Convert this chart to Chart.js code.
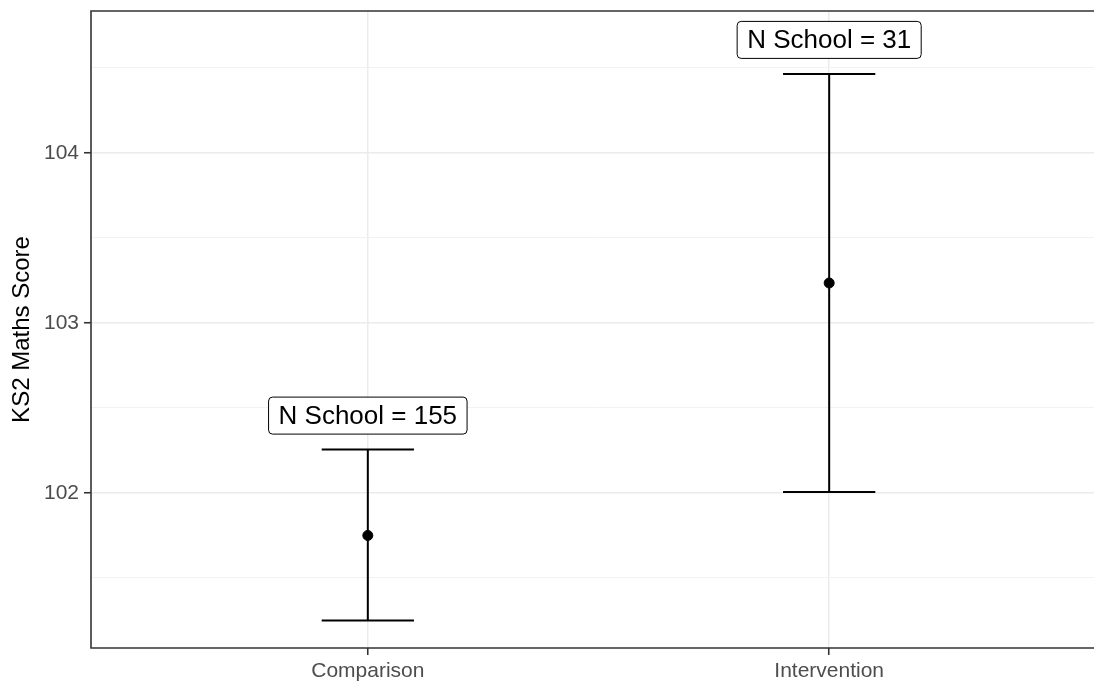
<!DOCTYPE html>
<html>
<head>
<meta charset="utf-8">
<script src="https://cdn.jsdelivr.net/npm/chart.js@4"></script>
<style>
  html, body { margin: 0; padding: 0; background: #fff; overflow: hidden; }
  #wrap { width: 1094px; height: 684px; }
</style>
</head>
<body>
<div id="wrap"><canvas id="chart"></canvas></div>
<script>
// === DATA ===
const categories = ["Comparison", "Intervention"];
const means = [101.75, 103.235];
const lower = [101.25, 102.005];
const upper = [102.255, 104.465];
const nSchools = [155, 31];
const yTicks = [101.5, 102, 102.5, 103, 103.5, 104, 104.5];

const FONT = "'Liberation Sans', Arial, sans-serif";

// error bars go under the points
const errorBars = {
  id: "errorBars",
  beforeDatasetsDraw(chart) {
    const { ctx, scales: { x, y } } = chart;
    ctx.save();
    ctx.strokeStyle = "#000";
    ctx.lineWidth = 2;
    categories.forEach((c, i) => {
      const px = x.getPixelForValue(i + 1);
      const half = x.getPixelForValue(i + 1.1) - px;
      const top = y.getPixelForValue(upper[i]);
      const bot = y.getPixelForValue(lower[i]);
      ctx.beginPath();
      ctx.moveTo(px, top); ctx.lineTo(px, bot);
      ctx.moveTo(px - half, top); ctx.lineTo(px + half, top);
      ctx.moveTo(px - half, bot); ctx.lineTo(px + half, bot);
      ctx.stroke();
    });
    ctx.restore();
  }
};

// labels + panel border
const labelsAndBorder = {
  id: "labelsAndBorder",
  afterDraw(chart) {
    const { ctx, chartArea: a, scales: { x, y } } = chart;
    ctx.save();
    ctx.font = "26px " + FONT;
    ctx.textAlign = "center";
    ctx.textBaseline = "middle";
    categories.forEach((c, i) => {
      const txt = "N School = " + nSchools[i];
      const cx = x.getPixelForValue(i + 1);
      const cy = y.getPixelForValue(upper[i] + 0.2);
      const w = ctx.measureText(txt).width + 20;
      const h = 37;
      ctx.beginPath();
      ctx.roundRect(cx - w / 2, cy - h / 2, w, h, 4);
      ctx.fillStyle = "#fff";
      ctx.fill();
      ctx.strokeStyle = "#000";
      ctx.lineWidth = 1;
      ctx.stroke();
      ctx.fillStyle = "#000";
      ctx.fillText(txt, cx, cy + 1);
    });
    ctx.strokeStyle = "#333";
    ctx.lineWidth = 1.6;
    ctx.beginPath();
    ctx.moveTo(a.right + 5, a.top);
    ctx.lineTo(a.left, a.top);
    ctx.lineTo(a.left, a.bottom);
    ctx.lineTo(a.right + 5, a.bottom);
    ctx.stroke();
    ctx.restore();
  }
};

new Chart(document.getElementById("chart"), {
  type: "scatter",
  data: {
    datasets: [{
      data: means.map((m, i) => ({ x: i + 1, y: m })),
      backgroundColor: "#000",
      borderColor: "#000",
      pointRadius: 5,
      pointHoverRadius: 5
    }]
  },
  options: {
    responsive: true,
    maintainAspectRatio: false,
    animation: false,
    layout: { autoPadding: false, padding: { top: 11, right: 0, left: 0, bottom: 0 } },
    plugins: { legend: { display: false }, tooltip: { enabled: false } },
    scales: {
      x: {
        type: "linear",
        min: 0.4,
        max: 2.574,
        afterBuildTicks: s => { s.ticks = [{ value: 1 }, { value: 2 }]; },
        afterFit: s => { s.height = 36; s.paddingLeft = 0; s.paddingRight = 0; },
        ticks: {
          color: "#4d4d4d",
          font: { family: FONT, size: 21 },
          padding: 4,
          callback: v => categories[v - 1]
        },
        grid: { color: "#ebebeb", lineWidth: 1.5, tickColor: "#333", tickLength: 7, tickWidth: 1.6 },
        border: { display: false }
      },
      y: {
        min: 101.088,
        max: 104.835,
        afterBuildTicks: s => { s.ticks = yTicks.map(v => ({ value: v })); },
        afterFit: s => { s.width = 91; s.paddingTop = 0; s.paddingBottom = 0; },
        ticks: {
          color: "#4d4d4d",
          font: { family: FONT, size: 21 },
          padding: 5,
          callback: v => Number.isInteger(v) ? String(v) : ""
        },
        grid: {
          color: ctx => Number.isInteger(ctx.tick.value) ? "#ebebeb" : "#f2f2f2",
          lineWidth: ctx => Number.isInteger(ctx.tick.value) ? 1.5 : 1,
          tickColor: ctx => Number.isInteger(ctx.tick.value) ? "#333" : "rgba(0,0,0,0)",
          tickLength: 7,
          tickWidth: 1.6
        },
        border: { display: false },
        title: {
          display: true,
          text: "KS2 Maths Score",
          color: "#000",
          font: { family: FONT, size: 24 },
          padding: { top: 8, bottom: 0 }
        }
      }
    }
  },
  plugins: [errorBars, labelsAndBorder]
});
</script>
</body>
</html>
